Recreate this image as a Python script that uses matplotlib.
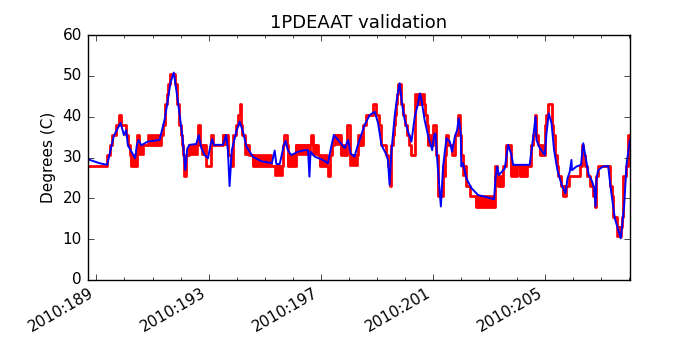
"""1PDEAAT validation: telemetry (red) vs model (blue)."""

import matplotlib

matplotlib.use("Agg")
import matplotlib.pyplot as plt
from matplotlib.ticker import FixedLocator, MultipleLocator

# telemetry, stepped (day of year 2010, degC)
red_t = [188.68, 189.39, 189.50, 189.57, 189.68, 189.79, 189.86, 190.07, 190.11, 190.18,
         190.24, 190.43, 190.46, 190.52, 190.71, 190.83, 191.29, 191.36, 191.43, 191.46,
         191.50, 191.57, 191.64, 191.82, 191.86, 191.89, 191.93, 191.96, 192.00, 192.04,
         192.09, 192.11, 192.14, 192.21, 192.32, 192.62, 192.71, 192.92, 193.07, 193.21,
         193.50, 193.69, 193.79, 193.86, 193.99, 194.04, 194.11, 194.16, 194.21, 194.29,
         194.43, 194.57, 195.36, 195.65, 195.71, 195.79, 195.83, 196.13, 196.67, 196.72,
         196.89, 196.96, 197.26, 197.32, 197.39, 197.46, 197.74, 197.95, 198.04, 198.33,
         198.51, 198.63, 198.87, 198.99, 199.07, 199.17, 199.35, 199.41, 199.46, 199.52,
         199.57, 199.61, 199.64, 199.68, 199.71, 199.75, 199.88, 199.95, 200.00, 200.07,
         200.14, 200.24, 200.36, 200.71, 200.79, 200.83, 201.01, 201.13, 201.18, 201.37,
         201.43, 201.48, 201.55, 201.67, 201.79, 201.90, 201.96, 202.02, 202.08, 202.20,
         202.32, 202.56, 203.21, 203.33, 203.51, 203.63, 203.81, 203.99, 204.11, 204.35,
         204.52, 204.59, 204.64, 204.70, 204.77, 204.82, 205.00, 205.06, 205.12, 205.24,
         205.30, 205.36, 205.43, 205.48, 205.57, 205.65, 205.77, 205.86, 206.25, 206.31,
         206.38, 206.43, 206.50, 206.61, 206.71, 206.80, 206.84, 206.91, 207.32, 207.39,
         207.44, 207.56, 207.74, 207.79, 207.80, 207.89, 207.96, 208.04]
red_v = [28.0, 30.5, 33.0, 35.5, 38.0, 40.5, 38.0, 35.5, 33.0, 30.5,
         28.0, 33.0, 35.5, 33.0, 33.0, 33.0, 35.5, 38.0, 40.5, 43.0,
         45.5, 48.0, 50.5, 48.0, 45.5, 43.0, 40.5, 38.0, 35.5, 33.0,
         30.5, 28.0, 25.5, 30.5, 33.0, 38.0, 33.0, 28.0, 33.0, 33.0,
         35.5, 30.5, 28.0, 35.5, 38.0, 40.5, 43.0, 38.0, 35.5, 33.0,
         30.5, 28.0, 28.0, 33.0, 35.5, 33.0, 28.0, 33.0, 35.5, 33.0,
         30.5, 28.0, 25.5, 30.5, 33.0, 35.5, 30.5, 38.0, 30.5, 33.0,
         38.0, 40.5, 43.0, 40.5, 38.0, 33.0, 30.5, 28.0, 23.0, 33.0,
         35.5, 38.0, 40.5, 43.0, 45.5, 48.0, 43.0, 40.5, 38.0, 35.5,
         33.0, 30.5, 43.0, 40.5, 38.0, 33.0, 38.0, 30.5, 20.5, 25.5,
         30.5, 35.5, 33.0, 30.5, 35.5, 40.5, 35.5, 30.5, 28.0, 23.0,
         20.5, 18.0, 25.5, 23.0, 28.0, 33.0, 25.5, 28.0, 25.5, 28.0,
         33.0, 35.5, 40.5, 35.5, 33.0, 30.5, 38.0, 40.5, 43.0, 38.0,
         35.5, 30.5, 28.0, 25.5, 23.0, 20.5, 23.0, 25.5, 28.0, 33.0,
         30.5, 28.0, 25.5, 23.0, 20.5, 18.0, 25.5, 28.0, 23.0, 20.5,
         15.5, 13.0, 15.5, 18.0, 25.5, 28.0, 35.5, 35.5]

# stretches where the telemetry flips between two adjacent counts
band_t0 = [190.24, 190.52, 190.83, 192.32, 192.75, 193.07, 193.50, 194.29, 194.57, 195.36,
           195.83, 196.13, 196.72, 196.96, 197.46, 197.74, 198.04, 198.33, 200.36, 200.83,
           201.37, 202.08, 202.56, 203.21, 203.33, 203.81, 204.11, 204.82, 205.65, 207.56]
band_t1 = [190.41, 190.71, 191.29, 192.61, 192.89, 193.21, 193.68, 194.43, 195.25, 195.64,
           196.13, 196.67, 196.88, 197.26, 197.70, 197.95, 198.33, 198.51, 200.71, 201.01,
           201.43, 202.20, 203.18, 203.33, 203.51, 203.99, 204.35, 205.00, 205.77, 207.74]
band_lo = [28.0, 30.5, 33.0, 30.5, 30.5, 33.0, 33.0, 30.5, 28.0, 25.5,
           28.0, 30.5, 30.5, 28.0, 33.0, 30.5, 28.0, 33.0, 43.0, 33.0,
           25.5, 25.5, 18.0, 23.0, 23.0, 25.5, 25.5, 30.5, 20.5, 10.5]
band_hi = [30.5, 33.0, 35.5, 33.0, 33.0, 35.5, 35.5, 33.0, 30.5, 28.0,
           30.5, 33.0, 33.0, 30.5, 35.5, 33.0, 30.5, 35.5, 45.5, 35.5,
           28.0, 28.0, 20.5, 28.0, 25.5, 28.0, 28.0, 33.0, 23.0, 13.0]

# model prediction
blue_t = [188.68, 189.11, 189.38, 189.62, 189.86, 189.98, 190.06, 190.12, 190.38, 190.44,
          190.50, 190.60, 190.83, 191.25, 191.43, 191.53, 191.64, 191.76, 191.90, 192.00,
          192.08, 192.17, 192.24, 192.32, 192.56, 192.65, 192.74, 192.86, 192.98, 193.07,
          193.13, 193.19, 193.51, 193.63, 193.69, 193.75, 193.83, 193.99, 194.11, 194.23,
          194.35, 194.58, 194.88, 195.18, 195.26, 195.36, 195.42, 195.54, 195.69, 195.75,
          195.83, 195.95, 196.19, 196.43, 196.55, 196.60, 196.64, 196.79, 197.08, 197.26,
          197.38, 197.47, 197.62, 197.86, 197.98, 198.07, 198.21, 198.33, 198.57, 198.75,
          198.93, 199.05, 199.17, 199.35, 199.40, 199.46, 199.52, 199.64, 199.74, 199.82,
          199.90, 200.00, 200.12, 200.24, 200.36, 200.48, 200.54, 200.60, 200.71, 200.83,
          200.98, 201.05, 201.10, 201.17, 201.29, 201.37, 201.49, 201.61, 201.69, 201.79,
          201.87, 201.93, 202.00, 202.02, 202.08, 202.20, 202.38, 202.62, 202.92, 203.19,
          203.24, 203.30, 203.36, 203.57, 203.69, 203.81, 203.87, 204.46, 204.58, 204.67,
          204.70, 204.82, 205.00, 205.06, 205.14, 205.24, 205.33, 205.45, 205.60, 205.74,
          205.81, 205.89, 205.95, 205.97, 206.13, 206.29, 206.37, 206.45, 206.57, 206.69,
          206.76, 206.81, 206.84, 206.90, 207.08, 207.26, 207.36, 207.50, 207.62, 207.71,
          207.83, 207.92, 208.04]
blue_v = [29.6, 28.6, 28.2, 35.3, 38.5, 35.5, 36.7, 33.0, 29.8, 33.0,
          34.3, 33.0, 33.9, 34.3, 39.2, 43.3, 48.3, 50.8, 44.1, 38.8,
          34.3, 26.9, 32.2, 33.1, 33.3, 35.5, 32.3, 30.6, 29.8, 33.1,
          34.5, 33.1, 33.1, 35.5, 31.8, 23.0, 31.8, 36.3, 38.8, 36.3,
          32.7, 30.2, 29.1, 28.7, 28.6, 31.7, 28.4, 28.4, 33.1, 34.1,
          31.8, 30.6, 31.4, 31.8, 31.8, 25.3, 31.4, 30.2, 29.4, 28.6,
          32.7, 35.5, 34.3, 32.3, 34.3, 31.0, 30.2, 33.1, 38.0, 40.4,
          41.2, 38.4, 33.1, 30.6, 29.4, 23.3, 31.0, 40.0, 45.3, 48.2,
          43.3, 39.2, 36.3, 33.9, 40.0, 43.3, 45.7, 44.1, 39.2, 35.5,
          31.8, 35.5, 35.9, 28.6, 18.0, 27.8, 34.7, 33.9, 31.4, 35.1,
          36.7, 39.6, 35.9, 27.8, 28.6, 24.9, 22.5, 20.8, 20.3, 19.8,
          24.9, 27.8, 25.7, 27.3, 33.1, 30.6, 28.2, 28.2, 34.7, 40.0,
          34.3, 32.3, 30.6, 35.9, 40.8, 38.4, 31.8, 26.9, 23.3, 21.2,
          24.9, 26.5, 29.4, 26.9, 27.8, 28.2, 33.5, 30.2, 25.7, 24.1,
          22.5, 18.0, 24.5, 26.9, 27.8, 27.9, 22.0, 15.1, 12.2, 10.2,
          18.0, 28.6, 34.3]

major_days = [189, 193, 197, 201, 205]
major_labels = [f"2010:{d}" for d in major_days]

plt.style.use("classic")
fig = plt.figure(figsize=(7, 3.5), dpi=100)
ax = fig.add_subplot(111)

ax.step(red_t, red_v, where="post", color="r", lw=2.0)
for t0, t1, lo, hi in zip(band_t0, band_t1, band_lo, band_hi):
    ax.fill_between([t0, t1], [lo, lo], [hi, hi], color="r", lw=1.2)
ax.plot(blue_t, blue_v, color="b", lw=1.4)

ax.set_xlim(188.68, 208.04)
ax.set_ylim(0, 60)
ax.xaxis.set_major_locator(FixedLocator(major_days))
ax.xaxis.set_minor_locator(MultipleLocator(1))
ax.set_xticklabels(major_labels)
ax.yaxis.set_major_locator(MultipleLocator(10))
ax.set_title("1PDEAAT validation", fontsize=13)
ax.set_ylabel("Degrees (C)", fontsize=11)
ax.tick_params(labelsize=11)
fig.autofmt_xdate()
fig.subplots_adjust(left=0.125, right=0.9, top=0.9, bottom=0.2)

fig.savefig("out.png", dpi=100, facecolor="w")
